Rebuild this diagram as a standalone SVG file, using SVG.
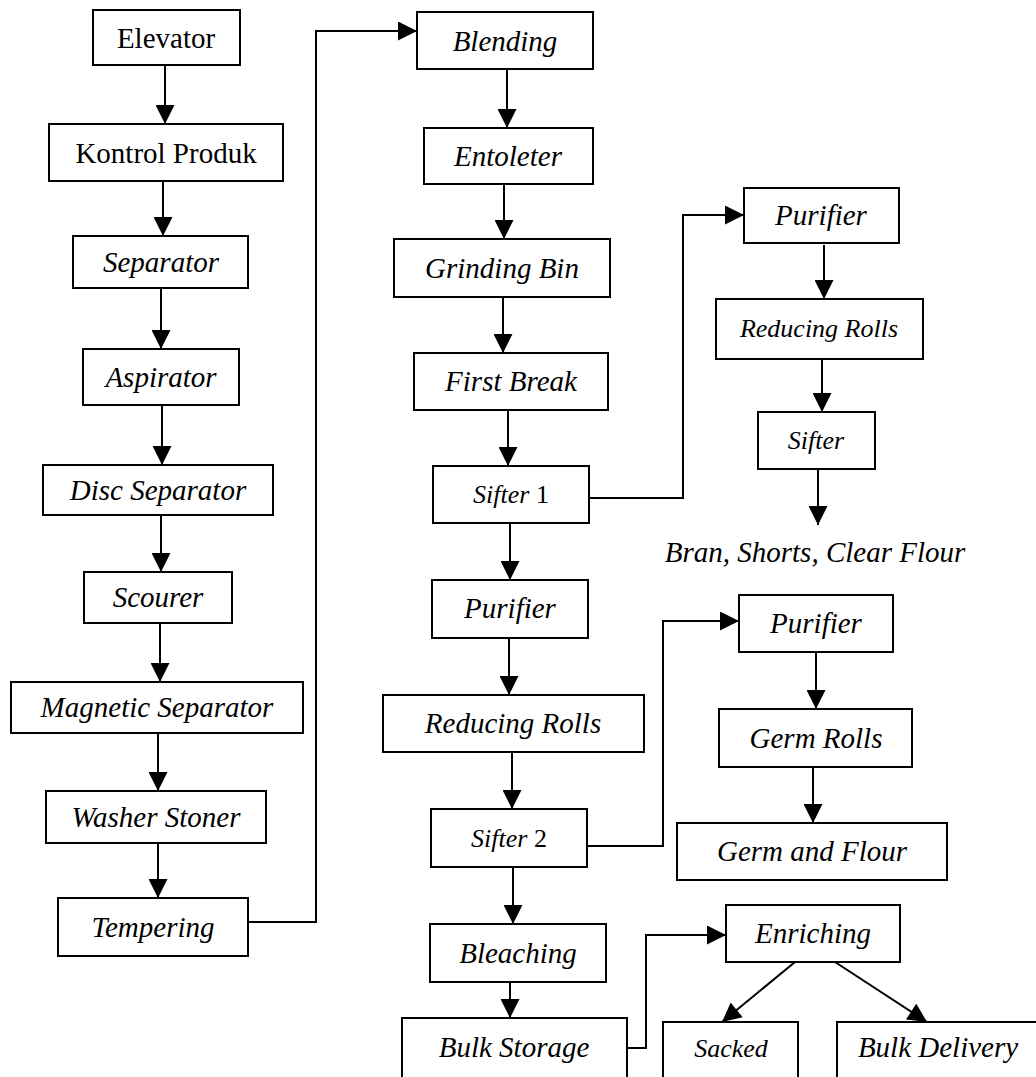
<svg xmlns="http://www.w3.org/2000/svg" width="1036" height="1077" viewBox="0 0 1036 1077">
<defs>
<marker id="ah" viewBox="0 0 20 20" refX="20" refY="10" markerWidth="20" markerHeight="19" markerUnits="userSpaceOnUse" orient="auto">
<path d="M0,0 L20,10 L0,20 z" fill="#000"/>
</marker>
<style>
rect{fill:#fff;stroke:#000;stroke-width:2}
text{font-family:"Liberation Serif","Times New Roman",serif;font-size:29px;fill:#000;text-anchor:middle}
.i{font-style:italic}
.s{font-size:26px}
.n{font-style:normal}
#connectors path,#connectors line{fill:none;stroke:#000;stroke-width:2;marker-end:url(#ah)}
</style>
</defs>
<rect x="0" y="0" width="1036" height="1077" style="fill:#fff;stroke:none"/>
<g id="connectors">
<line x1="165" y1="65" x2="165" y2="124"/>
<line x1="163" y1="181" x2="163" y2="236"/>
<line x1="161" y1="288" x2="161" y2="349"/>
<line x1="162" y1="405" x2="162" y2="465"/>
<line x1="161" y1="515" x2="161" y2="572"/>
<line x1="160" y1="623" x2="160" y2="682"/>
<line x1="158" y1="733" x2="158" y2="791"/>
<line x1="158" y1="843" x2="158" y2="898"/>
<path d="M248,922 L316,922 L316,31 L417,31"/>
<line x1="507" y1="69" x2="507" y2="128"/>
<line x1="504" y1="184" x2="504" y2="239"/>
<line x1="503" y1="297" x2="503" y2="353"/>
<line x1="508" y1="410" x2="508" y2="466"/>
<line x1="510" y1="523" x2="510" y2="580"/>
<path d="M589,498 L683,498 L683,215 L744,215"/>
<line x1="509" y1="638" x2="509" y2="695"/>
<line x1="512" y1="752" x2="512" y2="809"/>
<path d="M587,846 L663,846 L663,621 L739,621"/>
<line x1="513" y1="867" x2="513" y2="924"/>
<line x1="510" y1="982" x2="510" y2="1018"/>
<path d="M627,1048 L646,1048 L646,935 L726,935"/>
<line x1="824" y1="245" x2="824" y2="299"/>
<line x1="822" y1="359" x2="822" y2="412"/>
<line x1="818" y1="469" x2="818" y2="525"/>
<line x1="816" y1="652" x2="816" y2="709"/>
<line x1="813" y1="767" x2="813" y2="823"/>
<line x1="795" y1="962" x2="722" y2="1022"/>
<line x1="835" y1="962" x2="927" y2="1022"/>
</g>
<g id="elevator"><rect x="93" y="10" width="147" height="55"/><text x="166" y="48">Elevator</text></g>
<g id="kontrol-produk"><rect x="49" y="124" width="234" height="57"/><text x="166" y="163">Kontrol Produk</text></g>
<g id="separator"><rect x="73" y="236" width="175" height="52"/><text class="i" x="161" y="272">Separator</text></g>
<g id="aspirator"><rect x="83" y="349" width="156" height="56"/><text class="i" x="161" y="387">Aspirator</text></g>
<g id="disc-separator"><rect x="43" y="465" width="230" height="50"/><text class="i" x="158" y="500">Disc Separator</text></g>
<g id="scourer"><rect x="84" y="572" width="148" height="51"/><text class="i" x="158" y="607">Scourer</text></g>
<g id="magnetic-separator"><rect x="11" y="682" width="292" height="51"/><text class="i" x="157" y="717">Magnetic Separator</text></g>
<g id="washer-stoner"><rect x="46" y="791" width="220" height="52"/><text class="i" x="156" y="827">Washer Stoner</text></g>
<g id="tempering"><rect x="58" y="898" width="190" height="58"/><text class="i" x="153" y="937">Tempering</text></g>
<g id="blending"><rect x="417" y="12" width="176" height="57"/><text class="i" x="505" y="51">Blending</text></g>
<g id="entoleter"><rect x="424" y="128" width="169" height="56"/><text class="i" x="508" y="166">Entoleter</text></g>
<g id="grinding-bin"><rect x="394" y="239" width="216" height="58"/><text class="i" x="502" y="278">Grinding Bin</text></g>
<g id="first-break"><rect x="414" y="353" width="194" height="57"/><text class="i" x="511" y="391">First Break</text></g>
<g id="sifter-1"><rect x="433" y="466" width="156" height="57"/><text class="i s" x="511" y="503">Sifter <tspan class="n">1</tspan></text></g>
<g id="purifier"><rect x="432" y="580" width="156" height="58"/><text class="i" x="510" y="618">Purifier</text></g>
<g id="reducing-rolls"><rect x="383" y="695" width="261" height="57"/><text class="i" x="513" y="733">Reducing Rolls</text></g>
<g id="sifter-2"><rect x="431" y="809" width="156" height="58"/><text class="i s" x="509" y="847">Sifter <tspan class="n">2</tspan></text></g>
<g id="bleaching"><rect x="430" y="924" width="176" height="58"/><text class="i" x="518" y="963">Bleaching</text></g>
<g id="bulk-storage"><rect x="402" y="1018" width="225" height="70"/><text class="i" x="514" y="1057">Bulk Storage</text></g>
<g id="purifier-r1"><rect x="744" y="188" width="155" height="55"/><text class="i" x="821" y="225">Purifier</text></g>
<g id="reducing-rolls-r1"><rect x="716" y="299" width="207" height="60"/><text class="i s" x="819" y="337">Reducing Rolls</text></g>
<g id="sifter-r1"><rect x="758" y="412" width="117" height="57"/><text class="i s" x="816" y="449">Sifter</text></g>
<g id="bran-shorts-clear-flour"><text class="i" x="815" y="562">Bran, Shorts, Clear Flour</text></g>
<g id="purifier-r2"><rect x="739" y="595" width="154" height="57"/><text class="i" x="816" y="633">Purifier</text></g>
<g id="germ-rolls"><rect x="719" y="709" width="193" height="58"/><text class="i" x="816" y="748">Germ Rolls</text></g>
<g id="germ-and-flour"><rect x="677" y="823" width="270" height="57"/><text class="i" x="812" y="861">Germ and Flour</text></g>
<g id="enriching"><rect x="726" y="905" width="174" height="57"/><text class="i" x="813" y="943">Enriching</text></g>
<g id="sacked"><rect x="663" y="1022" width="135" height="66"/><text class="i s" x="731" y="1057">Sacked</text></g>
<g id="bulk-delivery"><rect x="837" y="1022" width="210" height="66"/><text class="i" x="938" y="1057">Bulk Delivery</text></g>
</svg>
